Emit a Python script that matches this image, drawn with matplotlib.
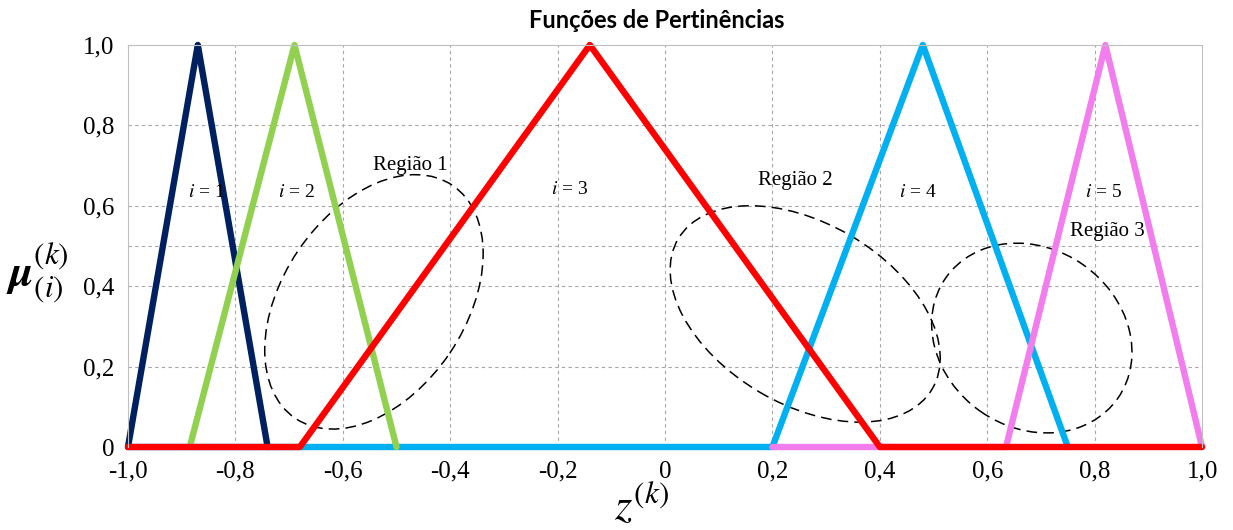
# Funções de pertinência triangulares para z^(k) com as três regiões marcadas
import matplotlib.pyplot as plt
from matplotlib.patches import Ellipse
from matplotlib.transforms import ScaledTranslation

plt.rcParams['mathtext.fontset'] = 'stix'

# vértices de cada função (z, mu)
z1 = [-1.0, -0.87, -0.74]
mu1 = [0.0, 1.0, 0.0]
z2 = [-0.885, -0.69, -0.50]
mu2 = [0.0, 1.0, 0.0]
z3 = [-1.0, -0.68, -0.14, 0.40, 1.0]
mu3 = [0.0, 0.0, 1.0, 0.0, 0.0]
z4 = [-1.0, 0.20, 0.48, 0.75]
mu4 = [0.0, 0.0, 1.0, 0.0]
z5 = [0.20, 0.635, 0.82, 1.0]
mu5 = [0.0, 0.0, 1.0, 0.0]

# rótulos i = 1..5
i_names = ['1', '2', '3', '4', '5']
i_pos_z = [-0.853, -0.687, -0.177, 0.471, 0.816]
i_pos_mu = [0.632, 0.632, 0.64, 0.632, 0.632]

# regiões: centro (z, mu), largura/altura em polegadas, ângulo
reg_names = ['Região 1', 'Região 2', 'Região 3']
reg_z = [-0.542, 0.261, 0.683]
reg_mu = [0.361, 0.331, 0.271]
reg_w = [2.81, 2.95, 2.10]
reg_h = [1.83, 1.81, 1.79]
reg_ang = [56, -30.6, -35]
reg_lbl_z = [-0.475, 0.242, 0.823]
reg_lbl_mu = [0.70, 0.664, 0.535]

xticks = [-1.0, -0.8, -0.6, -0.4, -0.2, 0.0, 0.2, 0.4, 0.6, 0.8, 1.0]
xlabels = ['-1,0', '-0,8', '-0,6', '-0,4', '-0,2', '0', '0,2', '0,4', '0,6', '0,8', '1,0']
yticks = [0.0, 0.2, 0.4, 0.6, 0.8, 1.0]
ylabels = ['0', '0,2', '0,4', '0,6', '0,8', '1,0']

fig = plt.figure(figsize=(12.33, 5.30), dpi=100)
ax = fig.add_axes([0.1038, 0.1566, 0.8711, 0.7585])

# grade tracejada
for x in xticks[1:-1]:
    ax.axvline(x, color='#a6a6a6', lw=0.8, ls=(0, (3, 3)), zorder=0)
for y in [0.2, 0.4, 0.5, 0.6, 0.8]:
    ax.axhline(y, color='#a6a6a6', lw=0.8, ls=(0, (3, 3)), zorder=0)

lw = 4.6
kw = dict(lw=lw, solid_joinstyle='round', solid_capstyle='round', clip_on=False)
ax.plot(z4, mu4, color='#00B0F0', **kw)
ax.plot(z5, mu5, color='#F27EEE', **kw)
ax.plot(z1, mu1, color='#002060', **kw)
ax.plot(z2, mu2, color='#92D050', **kw)
ax.plot(z3, mu3, color='#FF0000', **kw)

for name, x, y in zip(i_names, i_pos_z, i_pos_mu):
    ax.text(x, y, r'$i$ = ' + name, fontsize=14, family='Liberation Serif',
            ha='center', va='center')

for k in range(3):
    tr = fig.dpi_scale_trans + ScaledTranslation(reg_z[k], reg_mu[k], ax.transData)
    ax.add_patch(Ellipse((0, 0), reg_w[k], reg_h[k], angle=reg_ang[k], transform=tr,
                         fill=False, ec='black', lw=1.1, ls=(0, (7, 4))))
    ax.text(reg_lbl_z[k], reg_lbl_mu[k], reg_names[k], fontsize=15,
            family='Liberation Serif', ha='center', va='center')

ax.set_xlim(-1.0, 1.0)
ax.set_ylim(0.0, 1.0)
ax.set_xticks(xticks)
ax.set_xticklabels(xlabels)
ax.set_yticks(yticks)
ax.set_yticklabels(ylabels)
ax.tick_params(length=0, labelsize=18, pad=10)
for lab in ax.get_xticklabels() + ax.get_yticklabels():
    lab.set_family('Liberation Serif')
for s in ['top', 'right', 'left']:
    ax.spines[s].set_color('#bfbfbf')
ax.spines['bottom'].set_visible(False)

fig.text(0.533, 0.962, 'Funções de Pertinências', fontsize=17, weight='bold',
         family='Lato', ha='center', va='center')
fig.text(0.03, 0.485, r'$\boldsymbol{\mu}_{(i)}^{(k)}$', fontsize=32, ha='center', va='center')
fig.text(0.52, 0.045, r'$z^{(k)}$', fontsize=32, ha='center', va='center')

fig.savefig('out.png', dpi=100)
